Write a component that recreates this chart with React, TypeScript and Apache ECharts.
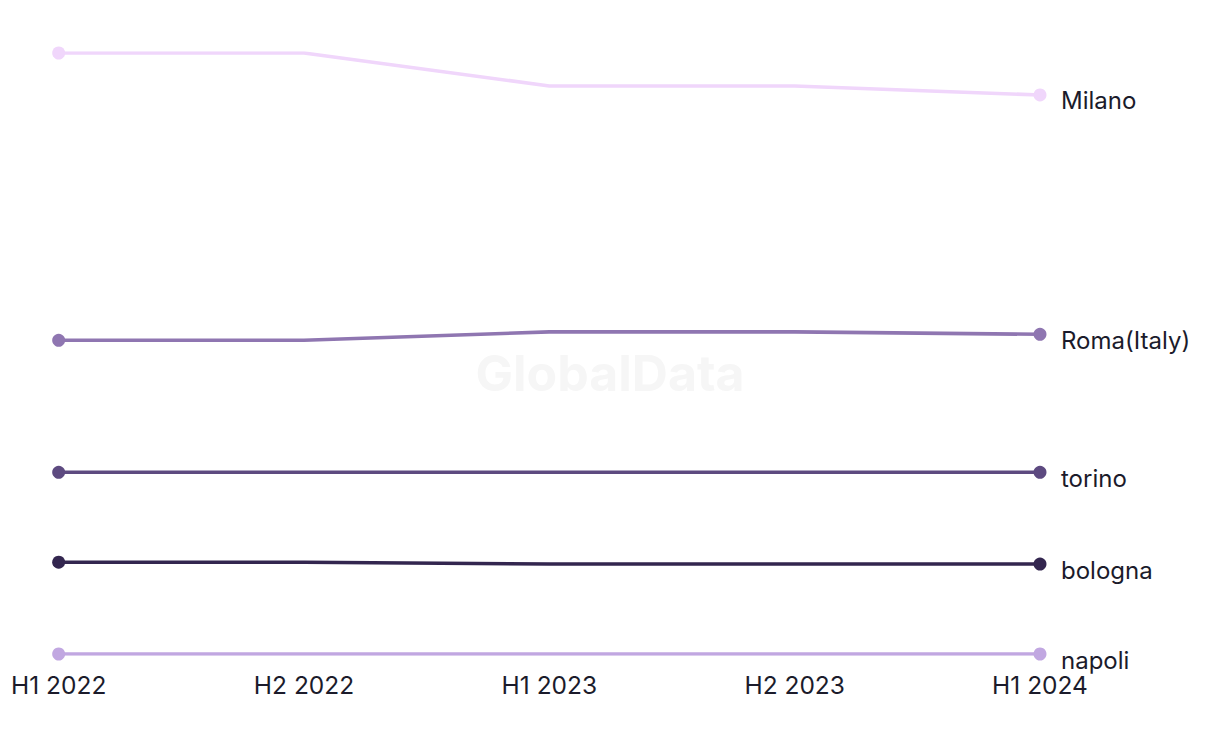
import React, { useEffect, useRef } from "react";
import * as echarts from "echarts";

const categories = ["H1 2022", "H2 2022", "H1 2023", "H2 2023", "H1 2024"];
const seriesNames = ["Milano", "Roma(Italy)", "torino", "bologna", "napoli"];
const milano = [100.2, 100.2, 94.7, 94.7, 93.2];
const roma = [52.3, 52.3, 53.7, 53.7, 53.3];
const torino = [30.3, 30.3, 30.3, 30.3, 30.3];
const bologna = [15.3, 15.3, 15.0, 15.0, 15.0];
const napoli = [0, 0, 0, 0, 0];
const colors = ["#f0d6fb", "#8f76b1", "#5d4a80", "#33264f", "#c1a7e1"];

export default function App() {
  const ref = useRef<HTMLDivElement>(null);
  useEffect(() => {
    if (!ref.current) return;
    const chart = echarts.init(ref.current, null, { renderer: "svg" });
    const data = [milano, roma, torino, bologna, napoli];
    const last = categories.length - 1;
    chart.setOption({
      animation: false,
      textStyle: { fontFamily: "Inter" },
      graphic: [
        {
          type: "text",
          left: "center",
          top: 340,
          style: {
            text: "GlobalData",
            fontSize: 50,
            fontWeight: "bold",
            fontFamily: "Inter",
            fill: "#f6f6f6",
          },
          z: 0,
        },
      ],
      grid: { left: 49, right: 172, top: 45, bottom: 82, containLabel: false },
      xAxis: {
        type: "category",
        data: categories,
        boundaryGap: false,
        axisLine: { show: false },
        axisTick: { show: false },
        axisLabel: { color: "#1b1b2b", fontSize: 24.5, margin: 18 },
      },
      yAxis: {
        type: "value",
        min: "dataMin",
        max: "dataMax",
        show: false,
        splitLine: { show: false },
      },
      series: seriesNames.map((name, i) => ({
        name,
        type: "line",
        data: data[i],
        color: colors[i],
        lineStyle: { width: 3.6, color: colors[i] },
        symbol: (_v: any, p: any) =>
          p.dataIndex === 0 || p.dataIndex === last ? "circle" : "none",
        symbolSize: 13,
        showSymbol: true,
        itemStyle: { color: colors[i] },
        z: 3,
        endLabel: {
          show: true,
          formatter: name,
          color: "#1b1b2b",
          fontSize: 24,
          offset: [13, 6],
        },
      })),
    });
    return () => chart.dispose();
  }, []);
  return <div ref={ref} style={{ width: 1204, height: 728 }} />;
}
